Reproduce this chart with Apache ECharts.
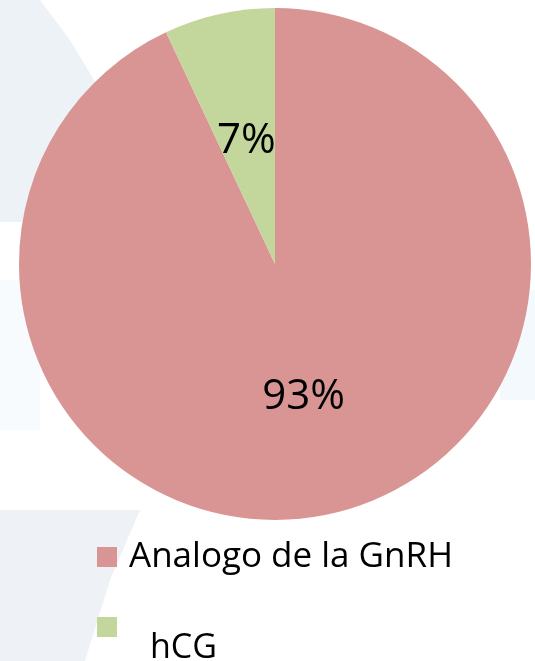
<!DOCTYPE html>
<html>
<head>
<meta charset="utf-8">
<script src="https://cdn.jsdelivr.net/npm/echarts@6/dist/echarts.min.js"></script>
<style>
    html, body { margin: 0; padding: 0; background: #ffffff; }
    #pie-chart { width: 535px; height: 661px; }
</style>
</head>
<body>
<div id="pie-chart"></div>
<script>
const categories = ['Analogo de la GnRH', 'hCG'];
const shares = [93, 7];
const colors = ['#d99594', '#c3d69b'];

(function () {
    const chart = echarts.init(document.getElementById('pie-chart'));
    const labelFont = '"Open Sans", "DejaVu Sans", sans-serif';

    const pieData = categories.map((name, i) => ({
        name: name,
        value: shares[i],
        itemStyle: { color: colors[i] }
    }));

    const option = {
        backgroundColor: '#ffffff',
        animation: false,
        // faint slide background shapes
        graphic: [
            {
                type: 'polygon', z: -10, silent: true,
                shape: { points: [[0, 0], [40, 0], [70, 40], [100, 90], [120, 222], [0, 222]] },
                style: { fill: '#edf2f7' }
            },
            {
                type: 'rect', z: -10, silent: true,
                shape: { x: 0, y: 280, width: 40, height: 150 },
                style: { fill: '#f8fbfd' }
            },
            {
                type: 'polygon', z: -10, silent: true,
                shape: { points: [[0, 510], [140, 510], [110, 580], [85, 661], [0, 661]] },
                style: { fill: '#eef2f6' }
            },
            {
                type: 'rect', z: -10, silent: true,
                shape: { x: 500, y: 290, width: 35, height: 110 },
                style: { fill: '#f3f9fd' }
            }
        ],
        legend: [
            {
                data: [categories[0]],
                left: 92,
                top: 532,
                icon: 'rect',
                itemWidth: 20,
                itemHeight: 20,
                selectedMode: false,
                textStyle: {
                    color: '#000', fontSize: 35, lineHeight: 40, fontFamily: labelFont,
                    padding: [0, 0, 0, 7]
                }
            },
            {
                data: [categories[1]],
                left: 92,
                top: 580,
                icon: 'rect',
                itemWidth: 20,
                itemHeight: 20,
                selectedMode: false,
                formatter: '\n{name}',
                textStyle: {
                    color: '#000', fontSize: 34, lineHeight: 42, fontFamily: labelFont,
                    padding: [0, 0, 0, 28]
                }
            }
        ],
        series: [{
            type: 'pie',
            center: [275, 264],
            radius: [0, 256],
            startAngle: 90,
            clockwise: true,
            label: {
                show: true,
                position: 'inside',
                formatter: '\n{d}%',
                color: '#000',
                fontSize: 42,
                lineHeight: 10,
                fontFamily: labelFont
            },
            labelLine: { show: false },
            itemStyle: { borderWidth: 0 },
            emphasis: { disabled: true },
            data: pieData
        }]
    };

    chart.setOption(option);
})();
</script>
</body>
</html>
